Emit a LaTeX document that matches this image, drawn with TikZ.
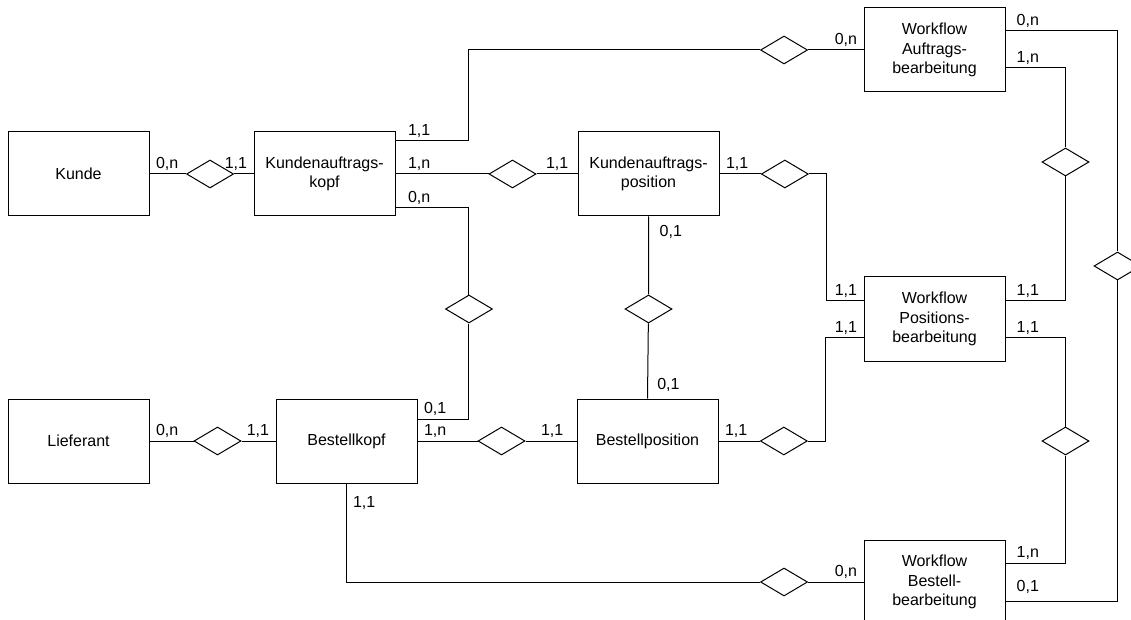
\documentclass[tikz,border=0pt]{standalone}
\usepackage{fontspec}
\setmainfont{Liberation Sans}
\usetikzlibrary{positioning,shapes.geometric,calc}
\tikzset{
  entity/.style={draw, line width=0.75pt, minimum width=105.75pt, minimum height=63pt, align=center, font=\fontsize{12}{14.5}\selectfont},
  rel/.style={draw, diamond, line width=0.75pt, fill=white, inner sep=0pt, minimum width=35.25pt, minimum height=21pt, aspect=1.68},
  card/.style={font=\fontsize{12}{14}\selectfont, inner xsep=4.5pt, inner ysep=2pt},
  conn/.style={line width=0.75pt}
}
\begin{document}
\begin{tikzpicture}
\useasboundingbox (0,0) rectangle (848.25pt,-465pt);
\node[entity](kunde) at (58.875pt,-130.5pt) {Kunde};
\node[entity, right=78pt of kunde](kopf) {Kundenauftrags-\\kopf};
\node[entity, right=136.5pt of kopf](kapos) {Kundenauftrags-\\position};
\node[entity, above right=29.25pt and 108pt of kapos](wa) {Workflow\\Auftrags-\\bearbeitung};
\node[entity, below=138pt of wa](wp) {Workflow\\Positions-\\bearbeitung};
\node[entity, below=133.5pt of wp](wb) {Workflow\\Bestell-\\bearbeitung};
\node[entity, below=136.5pt of kunde](lief) {Lieferant};
\node[entity, right=94.5pt of lief](bkopf) {Bestellkopf};
\node[entity, right=119.25pt of bkopf](bpos) {Bestellposition};

\node[rel, right=27.4pt of kunde](d1) {};
\node[rel, right=69.75pt of kopf](d2) {};
\node[rel, left=41.6pt of wa](d3) {};
\node[rel, right=31pt of kapos](d4) {};
\node[rel] (d5) at ($(wa.east)+(45pt,-84pt)$) {};
\node[rel] (d6) at ($(wa.east)+(84pt,-162pt)$) {};
\node[rel, below=58.5pt of kapos](d8) {};
\node[rel] (d7) at ($(kopf.east |- d8)+(55.1pt,0)$) {};
\node[rel, right=33pt of lief](d9) {};
\node[rel, right=45pt of bkopf](d10) {};
\node[rel, right=31pt of bpos](d11) {};
\node[rel] (d12) at (d5 |- d11) {};
\node[rel, left=41.6pt of wb](d13) {};

\draw[conn] (kunde.east) node[card, above right]{0,n} -- (d1) -- (kopf.west) node[card, above left]{1,1};
\draw[conn] ($(kopf.north east)+(0,-6.75pt)$) node[card, above right, xshift=4.5pt]{1,1} -| (d7 |- d3) -- (d3.west);
\draw[conn] (d3) -- (wa.west) node[card, above left]{0,n};
\draw[conn] (kopf.east) node[card, above right, xshift=4.5pt]{1,n} -- (d2) -- (kapos.west) node[card, above left, xshift=-2pt]{1,1};
\draw[conn] ($(kopf.south east)+(0,6.75pt)$) node[card, above right, xshift=4.5pt]{0,n} -| (d7.north);
\draw[conn] (d7.south) |- ($(bkopf.north east)+(0,-15.4pt)$) node[card, above right]{0,1};
\draw[conn] (kapos.south) node[card, below right, xshift=3.5pt, yshift=-4.5pt]{0,1} -- (d8) -- (bpos.north) node[card, above right, xshift=2.5pt, yshift=3pt]{0,1};
\draw[conn] (kapos.east) node[card, above right]{1,1} -- (d4);
\draw[conn] (d4.east) -- ++(13.1pt,0) |- ($(wp.west)+(0,13.9pt)$) node[card, above left]{1,1};
\draw[conn] (lief.east) node[card, above right]{0,n} -- (d9) -- (bkopf.west) node[card, above left]{1,1};
\draw[conn] (bkopf.east) node[card, above right]{1,n} -- (d10) -- (bpos.west) node[card, above left, xshift=-5pt]{1,1};
\draw[conn] (bpos.east) node[card, above right]{1,1} -- (d11);
\draw[conn] (d11.east) -- ++(13.1pt,0) |- ($(wp.west)+(0,-13.9pt)$) node[card, above left]{1,1};
\draw[conn] ($(wa.east)+(0,-13.5pt)$) node[card, above right, xshift=3.5pt]{1,n} -| (d5.north);
\draw[conn] (d5.south) |- ($(wp.east)+(0,13.9pt)$) node[card, above right, xshift=3.5pt]{1,1};
\draw[conn] ($(wa.east)+(0,14.25pt)$) node[card, above right, xshift=3.5pt]{0,n} -| (d6.north);
\draw[conn] (d6.south) |- ($(wb.east)+(0,-14.25pt)$) node[card, above right, xshift=3.5pt, yshift=3pt]{0,1};
\draw[conn] ($(wp.east)+(0,-13.9pt)$) node[card, above right, xshift=3.5pt]{1,1} -| (d12.north);
\draw[conn] (d12.south) |- ($(wb.east)+(0,14.25pt)$) node[card, above right, xshift=3.5pt]{1,n};
\draw[conn] (bkopf.south) node[card, below right, yshift=-7pt]{1,1} |- (d13.west);
\draw[conn] (d13) -- (wb.west) node[card, above left]{0,n};
\end{tikzpicture}
\end{document}
